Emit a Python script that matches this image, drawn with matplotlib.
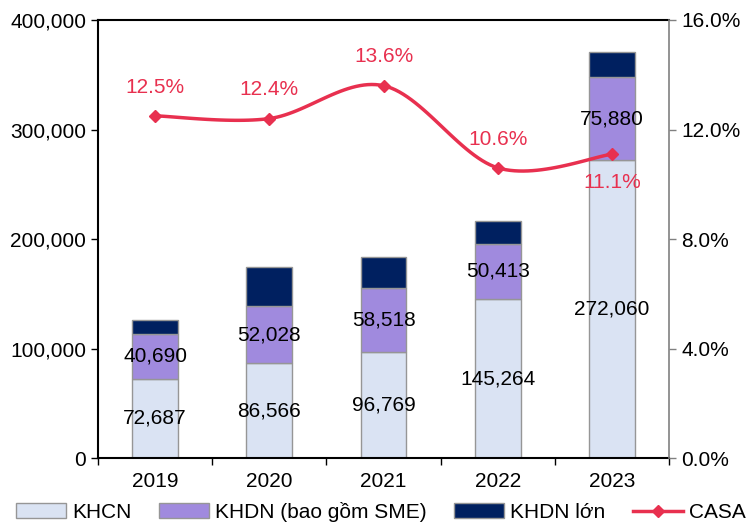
import numpy as np
import matplotlib
matplotlib.use('Agg')
import matplotlib.pyplot as plt
from matplotlib.patches import Patch
from matplotlib.lines import Line2D
from matplotlib.ticker import FuncFormatter

plt.rcParams['font.family'] = ['Liberation Sans', 'DejaVu Sans']

# dữ liệu
years = ['2019', '2020', '2021', '2022', '2023']
khcn = [72687, 86566, 96769, 145264, 272060]
khdn = [40690, 52028, 58518, 50413, 75880]
khdn_lon = [12600, 35800, 28300, 20700, 22800]
casa = [12.5, 12.4, 13.6, 10.6, 11.1]
casa_labels = ['12.5%', '12.4%', '13.6%', '10.6%', '11.1%']
casa_offsets = [1, 1, 1, 1, -1]  # nhãn trên / dưới điểm

c_khcn = '#dae3f3'
c_khdn = '#a08ade'
c_lon = '#002060'
c_casa = '#e8304f'
c_edge = '#969696'
fs = 15

fig = plt.figure(figsize=(7.47, 5.26), dpi=100)
ax = fig.add_axes([0.131, 0.129, 0.765, 0.833])
ax2 = ax.twinx()

x = np.arange(len(years))
w = 0.4
bottom2 = np.array(khcn)
bottom3 = bottom2 + np.array(khdn)
ax.bar(x, khcn, w, color=c_khcn, edgecolor=c_edge, linewidth=1)
ax.bar(x, khdn, w, bottom=bottom2, color=c_khdn, edgecolor=c_edge, linewidth=1)
ax.bar(x, khdn_lon, w, bottom=bottom3, color=c_lon, edgecolor=c_edge, linewidth=1)

for i in range(len(years)):
    ax.text(x[i], khcn[i] / 2, f'{khcn[i]:,}', ha='center', va='center', fontsize=fs)
    ax.text(x[i], khcn[i] + khdn[i] / 2, f'{khdn[i]:,}', ha='center', va='center', fontsize=fs)

ax.set_xlim(-0.5, len(years) - 0.5)
ax.set_ylim(0, 400000)
ax.set_yticks(range(0, 400001, 100000))
ax.yaxis.set_major_formatter(FuncFormatter(lambda v, p: f'{int(v):,}'))
ax.set_xticks(x)
ax.set_xticklabels(years)
ax.set_xticks(np.arange(-0.5, len(years), 1), minor=True)
ax.tick_params(axis='x', which='major', length=0, labelsize=fs, pad=10)
ax.tick_params(axis='x', which='minor', length=5, width=1)
ax.tick_params(axis='y', labelsize=fs, length=5, width=1)
for s in ['top', 'left', 'bottom']:
    ax.spines[s].set_linewidth(1.5)
ax.spines['right'].set_visible(False)

# đường CASA làm mượt (Catmull-Rom)
pts = np.column_stack([x, casa]).astype(float)
ext = np.vstack([pts[0], pts, pts[-1]])
sx, sy = [], []
for k in range(1, len(ext) - 2):
    p0, p1, p2, p3 = ext[k - 1], ext[k], ext[k + 1], ext[k + 2]
    t = np.linspace(0, 1, 30)[:, None]
    seg = 0.5 * ((2 * p1) + (-p0 + p2) * t + (2 * p0 - 5 * p1 + 4 * p2 - p3) * t ** 2
                 + (-p0 + 3 * p1 - 3 * p2 + p3) * t ** 3)
    sx.extend(seg[:, 0])
    sy.extend(seg[:, 1])
ax2.plot(sx, sy, color=c_casa, linewidth=2.5, zorder=3)
ax2.plot(x, casa, linestyle='none', marker='D', markersize=6, color=c_casa, zorder=4)
for i in range(len(years)):
    ax2.text(x[i], casa[i] + casa_offsets[i] * 1.05, casa_labels[i], ha='center', va='center',
             fontsize=fs, color=c_casa)

ax2.set_ylim(0, 16)
ax2.set_yticks(range(0, 17, 4))
ax2.yaxis.set_major_formatter(FuncFormatter(lambda v, p: f'{v:.1f}%'))
ax2.tick_params(axis='y', labelsize=fs, length=5, width=1, color='#808080')
ax2.spines['right'].set_color('#808080')
ax2.spines['right'].set_linewidth(1.2)
for s in ['top', 'left', 'bottom']:
    ax2.spines[s].set_visible(False)

handles = [Patch(facecolor=c_khcn, edgecolor=c_edge, label='KHCN'),
           Patch(facecolor=c_khdn, edgecolor=c_edge, label='KHDN (bao gồm SME)'),
           Patch(facecolor=c_lon, edgecolor=c_edge, label='KHDN lớn'),
           Line2D([0], [0], color=c_casa, linewidth=2.5, marker='D', markersize=6, label='CASA')]
fig.legend(handles=handles, loc='center', bbox_to_anchor=(0.51, 0.027), ncol=4, frameon=False,
           fontsize=fs, handlelength=2.4, handleheight=0.7, handletextpad=0.3,
           columnspacing=1.3, borderaxespad=0)

fig.savefig('out.png', dpi=100)
